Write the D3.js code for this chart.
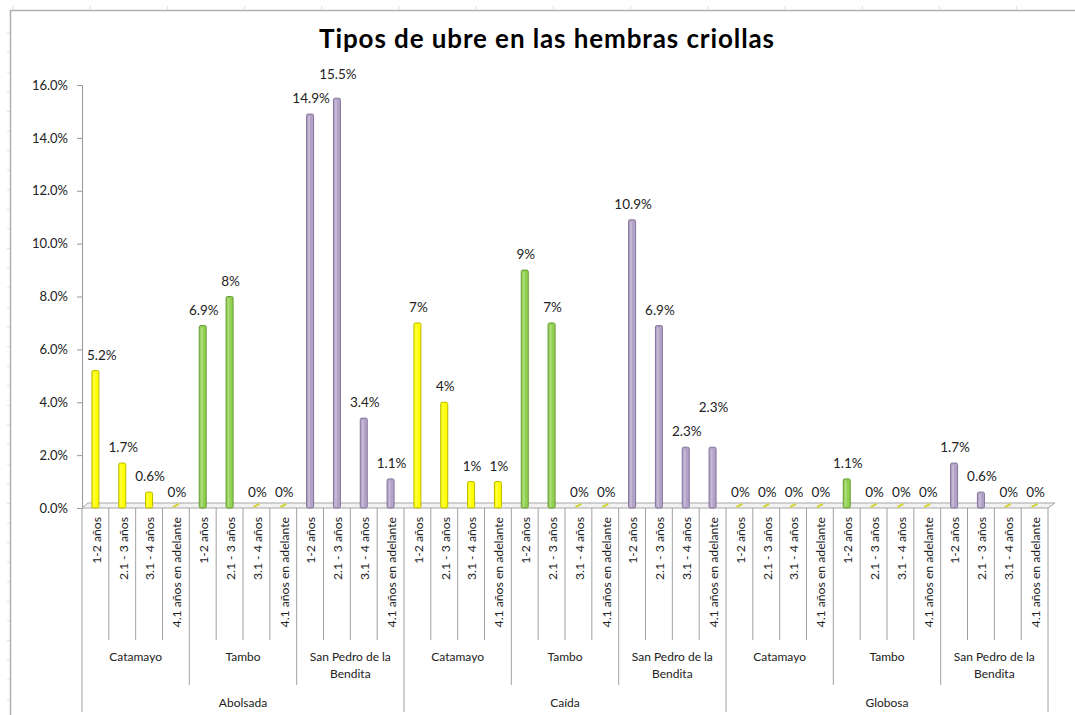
<!DOCTYPE html>
<html>
<head>
<meta charset="utf-8">
<script src="https://cdn.jsdelivr.net/npm/d3@7"></script>
<style>
  body { margin: 0; background: #fff; }
  text { font-family: Lato, "Open Sans", sans-serif; fill: #222; }
</style>
</head>
<body>
<div id="chart"></div>
<script>
// values (percent)
var ages = ["1-2 años", "2.1 - 3 años", "3.1 - 4 años", "4.1 años en adelante"];
var places = ["Catamayo", "Tambo", "San Pedro de la Bendita"];
var udders = ["Abolsada", "Caída", "Globosa"];
var abolsada = [5.2, 1.7, 0.6, 0, 6.9, 8, 0, 0, 14.9, 15.5, 3.4, 1.1];
var caida = [7, 4, 1, 1, 9, 7, 0, 0, 10.9, 6.9, 2.3, 2.3];
var globosa = [0, 0, 0, 0, 1.1, 0, 0, 0, 1.7, 0.6, 0, 0];
var yTicks = [0, 2, 4, 6, 8, 10, 12, 14, 16];

(function() {
var width = 1075, height = 715,
    plotLeft = 82, plotRight = 1048, plotTop = 85, base = 508;

var fills = { "Catamayo": "#ffff00", "Tambo": "#92d050", "San Pedro de la Bendita": "#b3a2c7" },
    strokes = { "Catamayo": "#b9b900", "Tambo": "#679a33", "San Pedro de la Bendita": "#84739b" };

var rows = [];
[abolsada, caida, globosa].forEach(function(vals, g) {
    vals.forEach(function(v, i) {
        rows.push({
            key: g + "-" + i,
            udder: udders[g],
            place: places[Math.floor(i / 4)],
            age: ages[i % 4],
            value: v
        });
    });
});

var svg = d3.select("#chart").append("svg")
    .attr("width", width)
    .attr("height", height);

var x = d3.scaleBand().domain(rows.map(d => d.key)).range([plotLeft, plotRight]),
    y = d3.scaleLinear().domain([0, 16]).range([base, plotTop]);

// spreadsheet frame peeking out
var frame = svg.append("g").attr("stroke", "#b0b0b0");
frame.append("line").attr("x1", 10).attr("x2", width).attr("y1", 10.5).attr("y2", 10.5).attr("stroke-width", 1.5);
frame.append("line").attr("x1", 10.5).attr("x2", 10.5).attr("y1", 10).attr("y2", height).attr("stroke-width", 1.5);
frame.selectAll(".tx").data(d3.range(13, width, 77.2)).enter().append("line")
    .attr("x1", d => d).attr("x2", d => d).attr("y1", 6).attr("y2", 10)
    .attr("stroke", "#ddd");
frame.selectAll(".ty").data(d3.range(33, height, 19.6)).enter().append("line")
    .attr("x1", 7).attr("x2", 10).attr("y1", d => d).attr("y2", d => d)
    .attr("stroke", "#ddd");

// title
svg.append("text")
    .attr("x", 547).attr("y", 48)
    .attr("text-anchor", "middle")
    .style("font-size", "26px")
    .style("font-weight", "bold")
    .style("letter-spacing", "0.9px")
    .style("fill", "#000")
    .text("Tipos de ubre en las hembras criollas");

// y axis
var yAxis = svg.append("g")
    .attr("transform", `translate(${plotLeft},0)`)
    .call(d3.axisLeft(y).tickValues(yTicks).tickSize(5).tickPadding(9)
        .tickFormat(d => d3.format(".1f")(d) + "%"));
yAxis.select(".domain").attr("stroke", "#999");
yAxis.selectAll(".tick line").attr("stroke", "#999");
yAxis.selectAll("text").style("font-size", "13px").style("fill", "#222")
    .style("font-family", "Lato, 'Open Sans', sans-serif");

// 3d floor
svg.append("path")
    .attr("d", `M${plotLeft},${base}L${plotLeft + 6},${base - 5}L${plotRight + 7},${base - 5}L${plotRight},${base}Z`)
    .attr("fill", "#f2f2f2")
    .attr("stroke", "#a6a6a6");

// bars
var bw = 7;
var bars = svg.append("g").selectAll("g").data(rows).enter().append("g");
bars.filter(d => d.value > 0).append("rect")
    .attr("x", d => x(d.key) + x.bandwidth() / 2 - bw / 2)
    .attr("y", d => y(d.value))
    .attr("width", bw)
    .attr("height", d => base - y(d.value))
    .attr("rx", 1.5)
    .attr("fill", d => fills[d.place])
    .attr("stroke", d => strokes[d.place])
    .attr("stroke-width", 1);
bars.filter(d => d.value > 0).append("line")
    .attr("x1", d => x(d.key) + x.bandwidth() / 2 - 1)
    .attr("x2", d => x(d.key) + x.bandwidth() / 2 - 1)
    .attr("y1", d => y(d.value) + 2)
    .attr("y2", base - 1)
    .attr("stroke", "#fff")
    .attr("stroke-opacity", 0.25)
    .attr("stroke-width", 2);
bars.filter(d => d.value === 0).append("line")
    .attr("x1", d => x(d.key) + x.bandwidth() / 2 - 3)
    .attr("x2", d => x(d.key) + x.bandwidth() / 2 + 3)
    .attr("y1", base - 1)
    .attr("y2", base - 4)
    .attr("stroke", "#d4d43c")
    .attr("stroke-width", 2);

// data labels: kept clear of the axis, nudged up when they would collide with the previous one
var labels = svg.append("g").selectAll("text").data(rows).enter().append("text")
    .attr("x", d => x(d.key) + x.bandwidth() / 2 + 1)
    .attr("y", d => y(d.value) - 11)
    .attr("text-anchor", "middle")
    .style("font-size", "13.5px")
    .text(d => d.value + "%");
var prev = null;
labels.each(function() {
    var t = d3.select(this), b = this.getBBox();
    if (b.x < plotLeft + 5) {
        t.attr("x", +t.attr("x") + (plotLeft + 5 - b.x));
        b = this.getBBox();
    }
    if (prev && b.x < prev.x + prev.width && b.y < prev.y + prev.height && b.y + b.height > prev.y) {
        var shift = b.y + b.height - prev.y + 8;
        t.attr("y", +t.attr("y") - shift);
        b = this.getBBox();
    }
    prev = b;
});

// multi-level category axis
var cat = svg.append("g").attr("stroke", "#a0a0a0");
cat.selectAll("line").data(d3.range(37)).enter().append("line")
    .attr("x1", i => plotLeft + i * x.step())
    .attr("x2", i => plotLeft + i * x.step())
    .attr("y1", base)
    .attr("y2", i => i % 12 === 0 ? 712 : i % 4 === 0 ? 685 : 640);

svg.append("g").selectAll("text").data(rows).enter().append("text")
    .attr("transform", d => `translate(${x(d.key) + x.bandwidth() / 2 + 1},517) rotate(-90)`)
    .attr("text-anchor", "end")
    .attr("dy", "0.35em")
    .style("font-size", "12.2px")
    .text(d => d.age);

var placeCells = [];
udders.forEach(function(u, g) {
    places.forEach(function(p, k) {
        placeCells.push({ name: p, cx: plotLeft + (g * 12 + k * 4 + 2) * x.step() });
    });
});

function wrap(sel, maxW) {
    sel.each(function() {
        var t = d3.select(this), words = t.text().split(" "), line = [],
            xx = t.attr("x");
        t.text(null);
        var tspan = t.append("tspan").attr("x", xx);
        words.forEach(function(w) {
            line.push(w);
            tspan.text(line.join(" "));
            if (tspan.node().getComputedTextLength() > maxW && line.length > 1) {
                line.pop();
                tspan.text(line.join(" "));
                line = [w];
                tspan = t.append("tspan").attr("x", xx).attr("dy", "1.45em").text(w);
            }
        });
    });
}

svg.append("g").selectAll("text").data(placeCells).enter().append("text")
    .attr("x", d => d.cx)
    .attr("y", 661)
    .attr("text-anchor", "middle")
    .style("font-size", "12px")
    .text(d => d.name)
    .call(wrap, 4 * x.step() - 14);

svg.append("g").selectAll("text").data(udders).enter().append("text")
    .attr("x", (d, g) => plotLeft + (g * 12 + 6) * x.step())
    .attr("y", 707)
    .attr("text-anchor", "middle")
    .style("font-size", "12px")
    .text(d => d);
})();
</script>
</body>
</html>
